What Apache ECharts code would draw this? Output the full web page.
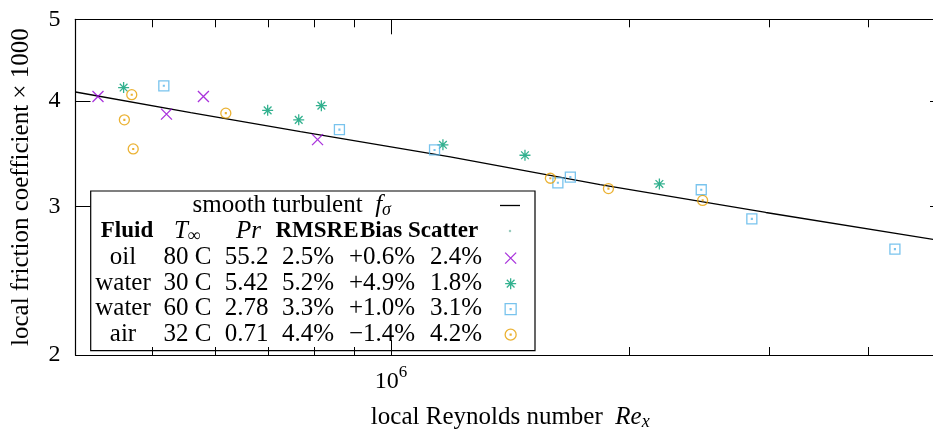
<!DOCTYPE html>
<html>
<head>
<meta charset="utf-8">
<script src="https://cdn.jsdelivr.net/npm/echarts@6/dist/echarts.min.js"></script>
<style>
html,body{margin:0;padding:0;background:#fff;}
#chart{width:933px;height:432px;}
</style>
</head>
<body>
<div id="chart"></div>
<script>
// ---- data (local Reynolds number, local friction coefficient x 1000) ----
const reOil = [4.27e5, 5.21e5, 5.80e5, 8.08e5];
const cfOil = [4.05, 3.86, 4.05, 3.60];
const reWater30 = [4.60e5, 6.99e5, 7.65e5, 8.17e5, 1.163e6, 1.476e6, 2.181e6];
const cfWater30 = [4.15, 3.90, 3.80, 3.95, 3.55, 3.45, 3.19];
const reWater60 = [5.17e5, 8.61e5, 1.135e6, 1.624e6, 1.684e6, 2.463e6, 2.853e6, 4.323e6];
const cfWater60 = [4.17, 3.70, 3.50, 3.20, 3.25, 3.14, 2.90, 2.67];
const reAir = [4.71e5, 4.61e5, 4.73e5, 6.19e5, 1.589e6, 1.881e6, 2.473e6];
const cfAir = [4.07, 3.80, 3.51, 3.87, 3.24, 3.15, 3.05];
const reFit = [4.0e5, 5.59e5, 7.69e5, 1.188e6, 1.836e6, 2.971e6, 5.0e6];
const cfFit = [4.10, 3.875, 3.68, 3.434, 3.184, 2.951, 2.728];

// ---- ticks ----
const xMinorTicks = [5e5, 6e5, 7e5, 8e5, 9e5, 2e6, 3e6, 4e6];
const xMajorTicks = [1e6];
const yTicks = [2, 3, 4, 5];

// ---- legend table ----
const fluids = ['oil', 'water', 'water', 'air'];
const temps = ['80 C', '30 C', '60 C', '32 C'];
const prandtl = ['55.2', '5.42', '2.78', '0.71'];
const rmsre = ['2.5%', '5.2%', '3.3%', '4.4%'];
const bias = ['+0.6%', '+4.9%', '+1.0%', '\u22121.4%'];
const scatterPct = ['2.4%', '1.8%', '3.1%', '4.2%'];
const seriesNames = ['oil 80 C', 'water 30 C', 'water 60 C', 'air 32 C'];
const colors = ['#9400d3', '#009e73', '#56b4e9', '#e69f00'];

const F = 'Liberation Serif';
const symX = 'path://M0,0L10,10M10,0L0,10';
const symStar = 'path://M0,5L10,5M5,0L5,10M1.5,1.5L8.5,8.5M8.5,1.5L1.5,8.5';
const symBox = 'path://M0,0L10,0L10,10L0,10ZM4.6,4.6L5.4,4.6L5.4,5.4L4.6,5.4Z';
const symCirc = 'path://M0,5A5,5,0,1,1,10,5A5,5,0,1,1,0,5ZM4.6,4.6L5.4,4.6L5.4,5.4L4.6,5.4Z';
const symbols = [symX, symStar, symBox, symCirc];
const symSizes = [11, 11, 10, 10];

const richBase = {
  n: {fontFamily: F, fontSize: 25, color: '#000'},
  i: {fontFamily: F, fontSize: 25, fontStyle: 'italic', color: '#000'},
  b: {fontFamily: F, fontSize: 23, fontWeight: 'bold', color: '#000'},
  sub: {fontFamily: F, fontSize: 18, fontStyle: 'italic', color: '#000', padding: [10, 0, 0, 0]},
  sup: {fontFamily: F, fontSize: 17, color: '#000', padding: [0, 0, 18, 0]},
  t: {fontFamily: F, fontSize: 24, color: '#000'}
};

function zip(a, b) { return a.map((v, k) => [v, b[k]]); }
const pointData = [zip(reOil, cfOil), zip(reWater30, cfWater30), zip(reWater60, cfWater60), zip(reAir, cfAir)];

const axisLineStyle = {color: '#000', width: 1.2};
function xAxisDef(position, ticks, len, showLine, withLabel) {
  const ax = {
    type: 'log', logBase: 10, min: 4e5, max: 5e6, position: position,
    axisLine: {show: showLine, onZero: false, lineStyle: axisLineStyle},
    axisTick: {show: true, inside: true, length: len, customValues: ticks, lineStyle: {color: '#000', width: 1}},
    axisLabel: {show: false},
    splitLine: {show: false}, minorTick: {show: false}, minorSplitLine: {show: false}
  };
  if (withLabel) {
    ax.axisLabel = {
      show: true, customValues: xMajorTicks, margin: 9,
      formatter: v => '{t|10}{sup|' + Math.round(Math.log10(v)) + '}',
      rich: richBase
    };
    ax.name = '{n|local Reynolds number  }{i|Re}{sub|x}';
    ax.nameLocation = 'middle';
    ax.nameGap = 48;
    ax.nameTextStyle = {rich: richBase};
  }
  return ax;
}
function yAxisDef(position, withLabel) {
  const ax = {
    type: 'log', logBase: 10, min: 2, max: 5, position: position,
    axisLine: {show: true, onZero: false, lineStyle: axisLineStyle},
    axisTick: {show: true, inside: true, length: 15, customValues: yTicks, lineStyle: {color: '#000', width: 1}},
    axisLabel: {show: false},
    splitLine: {show: false}, minorTick: {show: false}
  };
  if (withLabel) {
    ax.axisLabel = {show: true, customValues: yTicks, margin: 15, fontFamily: F, fontSize: 24, color: '#000',
      formatter: v => String(Math.round(v))};
    ax.name = 'local friction coefficient \u00d7 1000';
    ax.nameLocation = 'middle';
    ax.nameRotate = 90;
    ax.nameGap = 42;
    ax.nameTextStyle = {fontFamily: F, fontSize: 25, color: '#000'};
  }
  return ax;
}

const series = [{
  name: 'smooth turbulent', type: 'line', data: zip(reFit, cfFit), symbol: 'none', smooth: false,
  lineStyle: {color: '#000', width: 1.3}, itemStyle: {color: '#000'}, silent: true, z: 1
}, {
  name: 'header', type: 'scatter', data: [], symbol: 'circle', symbolSize: 2,
  itemStyle: {color: '#7fbfae'}
}];
for (let k = 0; k < 4; k++) {
  series.push({
    name: seriesNames[k], type: 'scatter', data: pointData[k], symbol: symbols[k], symbolSize: symSizes[k],
    itemStyle: {color: 'transparent', borderColor: colors[k], borderWidth: 1.3}, z: 3
  });
}

// legends: one per row, icon column only
const rowY = [205.5, 231, 257.5, 283, 308.5, 334];
const legendNames = ['smooth turbulent', 'header'].concat(seriesNames);
const legends = legendNames.map((nm, k) => {
  let w = 11, h = 11, item = nm, st = {borderWidth: 1.3};
  if (k === 0) { w = 20; h = 1.3; item = {name: nm, icon: 'rect'}; st = {color: '#000', borderWidth: 0}; }
  if (k === 1) { w = 2.5; h = 2.5; item = {name: nm, icon: 'circle'}; st = {color: '#7fbfae', borderWidth: 0}; }
  return {
    data: [item], orient: 'vertical', left: 510 - w / 2, top: rowY[k] - h / 2, padding: 0,
    itemWidth: w, itemHeight: h, itemGap: 0, selectedMode: false,
    formatter: () => '', textStyle: {fontSize: 1}, itemStyle: st
  };
});

// legend table text
const graphics = [{
  type: 'rect', shape: {x: 90.7, y: 191, width: 444.3, height: 159.7},
  style: {fill: 'none', stroke: '#000', lineWidth: 1.2}, z: 10
}];
function txt(x, y, text, align) {
  graphics.push({type: 'text', x: x, y: y, z: 10,
    style: {text: text, rich: richBase, align: align || 'center', textAlign: align || 'center',
      verticalAlign: 'middle', textVerticalAlign: 'middle', font: '25px ' + F, fill: '#000'}});
}
txt(192.5, rowY[0], '{n|smooth turbulent  }{i|f}{sub|\u03c3}', 'left');
txt(127, rowY[1], '{b|Fluid}');
txt(174, rowY[1], '{i|T}{sub|\u221e}', 'left');
txt(248.5, rowY[1], '{i|Pr}');
txt(317, rowY[1], '{b|RMSRE}');
txt(381, rowY[1], '{b|Bias}');
txt(443, rowY[1], '{b|Scatter}');
const colX = [123, 187.5, 246.7, 308, 382, 456];
const cols = [fluids, temps, prandtl, rmsre, bias, scatterPct];
for (let r = 0; r < 4; r++) {
  for (let c = 0; c < 6; c++) {
    txt(colX[c], rowY[r + 2], '{n|' + cols[c][r] + '}');
  }
}

const chart = echarts.init(document.getElementById('chart'), null, {renderer: 'canvas'});
chart.setOption({
  animation: false,
  backgroundColor: '#fff',
  grid: {left: 75.5, right: -12, top: 19.3, bottom: 77, containLabel: false, outerBoundsMode: 'none'},
  xAxis: [
    xAxisDef('bottom', xMinorTicks, 8, true, true),
    xAxisDef('bottom', xMajorTicks, 15, false, false),
    xAxisDef('top', xMinorTicks, 8, true, false),
    xAxisDef('top', xMajorTicks, 15, false, false)
  ],
  yAxis: [yAxisDef('left', true), yAxisDef('right', false)],
  legend: legends,
  series: series,
  graphic: graphics
});
</script>
</body>
</html>
